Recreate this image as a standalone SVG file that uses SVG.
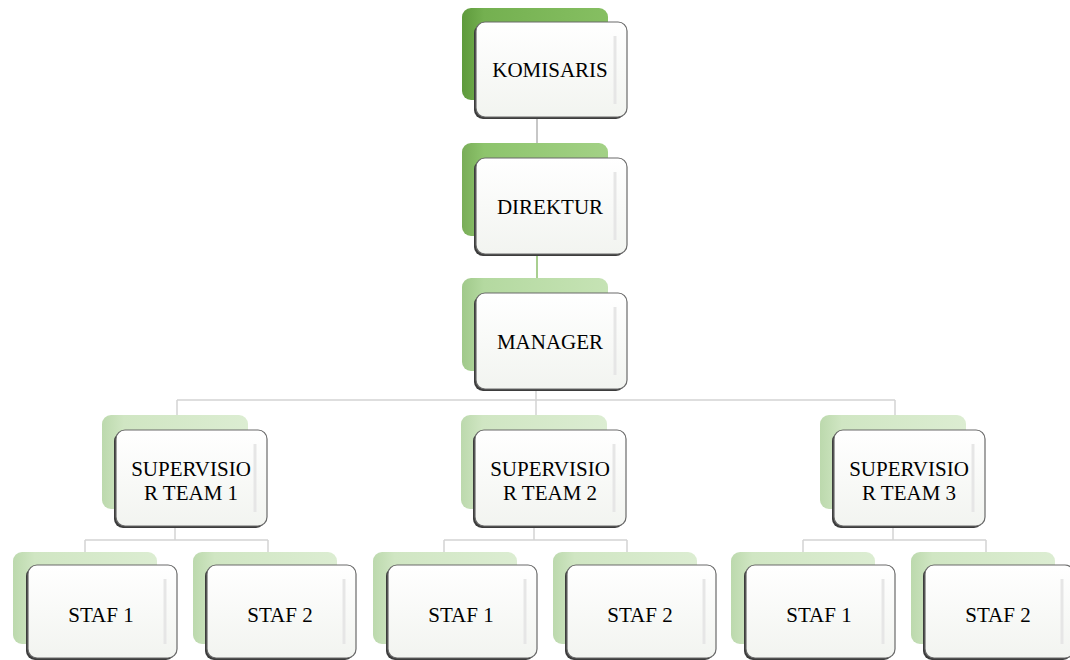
<svg xmlns="http://www.w3.org/2000/svg" width="1070" height="660" viewBox="0 0 1070 660">
<defs>
<linearGradient id="g1" x1="0" y1="0" x2="1" y2="0"><stop offset="0" stop-color="#5e9a3c"/><stop offset="0.15" stop-color="#74b050"/><stop offset="1" stop-color="#86bf62"/></linearGradient>
<linearGradient id="g2" x1="0" y1="0" x2="1" y2="0"><stop offset="0" stop-color="#79ad58"/><stop offset="0.15" stop-color="#8dc46c"/><stop offset="1" stop-color="#a3d186"/></linearGradient>
<linearGradient id="g3" x1="0" y1="0" x2="1" y2="0"><stop offset="0" stop-color="#a0c98a"/><stop offset="0.15" stop-color="#b4d9a0"/><stop offset="1" stop-color="#c6e3b5"/></linearGradient>
<linearGradient id="g4" x1="0" y1="0" x2="1" y2="0"><stop offset="0" stop-color="#bcd9ad"/><stop offset="0.15" stop-color="#d0e6c3"/><stop offset="1" stop-color="#dcedd2"/></linearGradient>
<linearGradient id="gf" x1="0" y1="0" x2="0" y2="1"><stop offset="0" stop-color="#ffffff"/><stop offset="1" stop-color="#f2f4f0"/></linearGradient>
</defs>
<style>
.sh{fill:#3c3c3c}
.fr{fill:url(#gf);stroke:#6a6a6a;stroke-width:1.2}
.hl{stroke:#e6e6e6;stroke-width:3;fill:none}
.t{font-family:'Liberation Serif','Times New Roman',serif;font-size:21px;fill:#000;text-anchor:middle}
.c{stroke:#d4d4d4;stroke-width:1.5;fill:none}
</style>
<g id="connectors">
<line x1="537" y1="117" x2="537" y2="144" stroke="#b4b4b4" stroke-width="1.5"/>
<line x1="537" y1="254" x2="537" y2="279" stroke="#a9cf90" stroke-width="2"/>
<path class="c" d="M536 389V400M177 400H895M177 400V416M536 400V416M895 400V416"/>
<path class="c" d="M175 527V540M85 540H268M85 540V552M268 540V552"/>
<path class="c" d="M534 527V540M444 540H627M444 540V552M627 540V552"/>
<path class="c" d="M893 527V540M803 540H986M803 540V552M986 540V552"/>
</g>
<g id="komisaris">
<rect x="462" y="8" width="146" height="92" rx="9" fill="url(#g1)"/>
<rect x="474" y="24" width="151" height="95" rx="9" class="sh"/>
<rect x="476" y="22" width="151" height="95" rx="9" class="fr"/>
<line x1="615" y1="36" x2="615" y2="104" class="hl"/>
<text x="550" y="77" class="t">KOMISARIS</text>
</g>
<g id="direktur">
<rect x="462" y="143" width="146" height="93" rx="9" fill="url(#g2)"/>
<rect x="474" y="160" width="151" height="96" rx="9" class="sh"/>
<rect x="476" y="158" width="151" height="96" rx="9" class="fr"/>
<line x1="615" y1="172" x2="615" y2="240" class="hl"/>
<text x="550" y="214" class="t">DIREKTUR</text>
</g>
<g id="manager">
<rect x="462" y="278" width="146" height="93" rx="9" fill="url(#g3)"/>
<rect x="474" y="295" width="151" height="96" rx="9" class="sh"/>
<rect x="476" y="293" width="151" height="96" rx="9" class="fr"/>
<line x1="615" y1="307" x2="615" y2="375" class="hl"/>
<text x="550" y="349" class="t">MANAGER</text>
</g>
<g id="supervisor1">
<rect x="102" y="415" width="146" height="94" rx="9" fill="url(#g4)"/>
<rect x="114" y="432" width="151" height="96" rx="9" class="sh"/>
<rect x="116" y="430" width="151" height="96" rx="9" class="fr"/>
<line x1="255" y1="444" x2="255" y2="512" class="hl"/>
<text x="191" y="476" class="t">SUPERVISIO</text>
<text x="191" y="500" class="t">R TEAM 1</text>
</g>
<g id="supervisor2">
<rect x="461" y="415" width="146" height="94" rx="9" fill="url(#g4)"/>
<rect x="473" y="432" width="151" height="96" rx="9" class="sh"/>
<rect x="475" y="430" width="151" height="96" rx="9" class="fr"/>
<line x1="614" y1="444" x2="614" y2="512" class="hl"/>
<text x="550" y="476" class="t">SUPERVISIO</text>
<text x="550" y="500" class="t">R TEAM 2</text>
</g>
<g id="supervisor3">
<rect x="820" y="415" width="146" height="94" rx="9" fill="url(#g4)"/>
<rect x="832" y="432" width="151" height="96" rx="9" class="sh"/>
<rect x="834" y="430" width="151" height="96" rx="9" class="fr"/>
<line x1="973" y1="444" x2="973" y2="512" class="hl"/>
<text x="909" y="476" class="t">SUPERVISIO</text>
<text x="909" y="500" class="t">R TEAM 3</text>
</g>
<g id="staf1-team1">
<rect x="13" y="552" width="144" height="92" rx="9" fill="url(#g4)"/>
<rect x="26" y="567" width="149" height="93" rx="9" class="sh"/>
<rect x="28" y="565" width="149" height="93" rx="9" class="fr"/>
<line x1="165" y1="579" x2="165" y2="644" class="hl"/>
<text x="101" y="622" class="t">STAF 1</text>
</g>
<g id="staf2-team1">
<rect x="193" y="552" width="144" height="92" rx="9" fill="url(#g4)"/>
<rect x="205" y="567" width="149" height="93" rx="9" class="sh"/>
<rect x="207" y="565" width="149" height="93" rx="9" class="fr"/>
<line x1="344" y1="579" x2="344" y2="644" class="hl"/>
<text x="280" y="622" class="t">STAF 2</text>
</g>
<g id="staf1-team2">
<rect x="373" y="552" width="144" height="92" rx="9" fill="url(#g4)"/>
<rect x="386" y="567" width="149" height="93" rx="9" class="sh"/>
<rect x="388" y="565" width="149" height="93" rx="9" class="fr"/>
<line x1="525" y1="579" x2="525" y2="644" class="hl"/>
<text x="461" y="622" class="t">STAF 1</text>
</g>
<g id="staf2-team2">
<rect x="553" y="552" width="144" height="92" rx="9" fill="url(#g4)"/>
<rect x="565" y="567" width="149" height="93" rx="9" class="sh"/>
<rect x="567" y="565" width="149" height="93" rx="9" class="fr"/>
<line x1="704" y1="579" x2="704" y2="644" class="hl"/>
<text x="640" y="622" class="t">STAF 2</text>
</g>
<g id="staf1-team3">
<rect x="731" y="552" width="144" height="92" rx="9" fill="url(#g4)"/>
<rect x="744" y="567" width="149" height="93" rx="9" class="sh"/>
<rect x="746" y="565" width="149" height="93" rx="9" class="fr"/>
<line x1="883" y1="579" x2="883" y2="644" class="hl"/>
<text x="819" y="622" class="t">STAF 1</text>
</g>
<g id="staf2-team3">
<rect x="911" y="552" width="144" height="92" rx="9" fill="url(#g4)"/>
<rect x="923" y="567" width="149" height="93" rx="9" class="sh"/>
<rect x="925" y="565" width="149" height="93" rx="9" class="fr"/>
<line x1="1062" y1="579" x2="1062" y2="644" class="hl"/>
<text x="998" y="622" class="t">STAF 2</text>
</g>
</svg>
